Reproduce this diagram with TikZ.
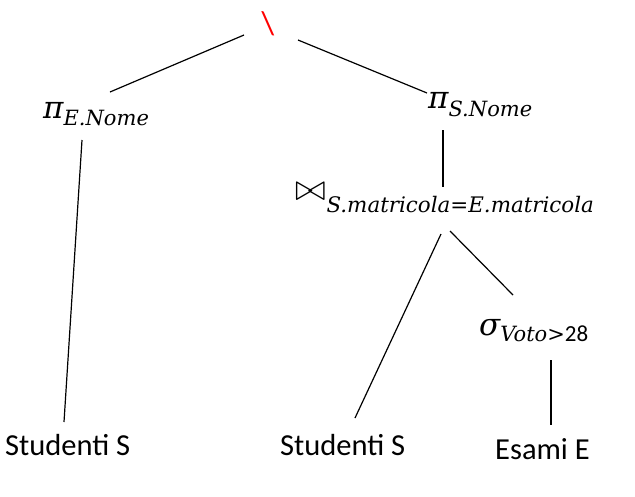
\documentclass[tikz,border=0pt]{standalone}
\usepackage{fontspec}
\setmainfont{Carlito}
\newfontfamily\mifont{DejaVu Serif}
\newcommand\mysub[2]{\raisebox{-#1}{\fontsize{21}{21}\selectfont #2}}
\begin{document}
\begin{tikzpicture}[x=1pt,y=-1pt,
  lbl/.style={inner sep=0pt, anchor=base west, font=\fontsize{30.5}{32}\selectfont},
  mlbl/.style={inner sep=0pt, anchor=base west, font=\fontsize{31}{32}\selectfont\mifont\itshape},
  edge/.style={line width=1.2pt}]
\useasboundingbox (0,0) rectangle (635,496);
\node[inner sep=0pt, red, font=\fontsize{33}{33}\selectfont] (diff) at (268,24) {\textbackslash};
\node[mlbl] (piE) at (43,118) {π\mysub{7pt}{E.Nome}};
\node[mlbl] (piS) at (428,108) {π\mysub{8pt}{S.Nome}};
\node[mlbl] (join) at (295,200) {{\upshape\scalebox{1.5}{$\bowtie$}}\hspace{1pt}\mysub{12pt}{\fontsize{21.4}{22}\selectfont S.matricola{\upshape=}E.matricola}};
\node[mlbl] (sigma) at (479,335) {σ\mysub{6pt}{Voto{\upshape >}{\normalfont\fontsize{23}{23}\selectfont 28}}};
\node[lbl] (studL) at (5,455) {Studenti S};
\node[lbl] (studM) at (280,455) {Studenti S};
\node[lbl] (esami) at (495,459) {Esami E};
\draw[edge] ([shift={(-24,11)}]diff.center) -- ([shift={(67,-26)}]piE.base west);
\draw[edge] ([shift={(30,16)}]diff.center) -- ([shift={(-1,-15)}]piS.base west);
\draw[edge] ([shift={(39,22)}]piE.base west) -- ([shift={(59,-33)}]studL.base west);
\draw[edge] ([shift={(15,22)}]piS.base west) -- ([shift={(148,-13)}]join.base west);
\draw[edge] ([shift={(146,34)}]join.base west) -- ([shift={(75,-37)}]studM.base west);
\draw[edge] ([shift={(155,31)}]join.base west) -- ([shift={(34,-40)}]sigma.base west);
\draw[edge] ([shift={(72,25)}]sigma.base west) -- ([shift={(56,-34)}]esami.base west);
\end{tikzpicture}
\end{document}
